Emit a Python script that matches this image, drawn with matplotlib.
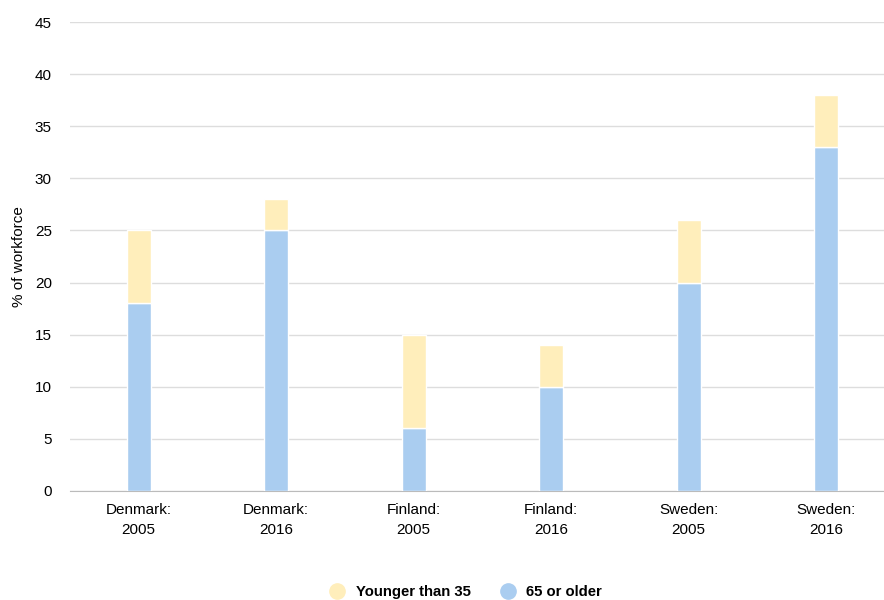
import matplotlib.pyplot as plt
import numpy as np
from matplotlib.lines import Line2D

plt.rcParams['font.family'] = ['Liberation Sans', 'DejaVu Sans']

# data
categories = ['Denmark:\n2005', 'Denmark:\n2016', 'Finland:\n2005',
              'Finland:\n2016', 'Sweden:\n2005', 'Sweden:\n2016']
older = [18, 25, 6, 10, 20, 33]
younger = [7, 3, 9, 4, 6, 5]

YELLOW = '#FFEEBB'
BLUE = '#AACDF0'

fig = plt.figure(figsize=(8.84, 6), dpi=100)
ax = fig.add_axes([0.079, 0.182, 0.921, 0.781])

x = np.arange(len(categories))
width = 0.175

ax.bar(x, older, width=width, color=BLUE, edgecolor='white', linewidth=1, zorder=3)
ax.bar(x, younger, width=width, bottom=older, color=YELLOW, edgecolor='white',
       linewidth=1, zorder=3)

ax.set_xlim(-0.5, 5.42)
ax.set_ylim(0, 45)
ax.set_yticks(np.arange(0, 46, 5))
ax.set_xticks(x)
ax.set_xticklabels(categories, fontsize=11, linespacing=1.5)
ax.tick_params(axis='y', labelsize=11, length=0, pad=13)
ax.tick_params(axis='x', length=0, pad=9)

ax.grid(axis='y', color='#DDDDDD', linewidth=1, zorder=0)
for s in ['top', 'right', 'left']:
    ax.spines[s].set_visible(False)
ax.spines['bottom'].set_color('#BBBBBB')

ax.set_ylabel('% of workforce', fontsize=11)
ax.yaxis.set_label_coords(-0.054, 0.5)

handles = [
    Line2D([], [], marker='o', linestyle='', markersize=11, markerfacecolor=YELLOW,
           markeredgecolor=YELLOW, label='Younger than 35'),
    Line2D([], [], marker='o', linestyle='', markersize=11, markerfacecolor=BLUE,
           markeredgecolor=BLUE, label='65 or older'),
]
leg = fig.legend(handles=handles, loc='center', bbox_to_anchor=(0.527, 0.013),
                 ncol=2, frameon=False, prop={'weight': 'bold', 'size': 10.7},
                 handlelength=1, handletextpad=0.75, columnspacing=2.0)

fig.savefig('out.png', dpi=100)
